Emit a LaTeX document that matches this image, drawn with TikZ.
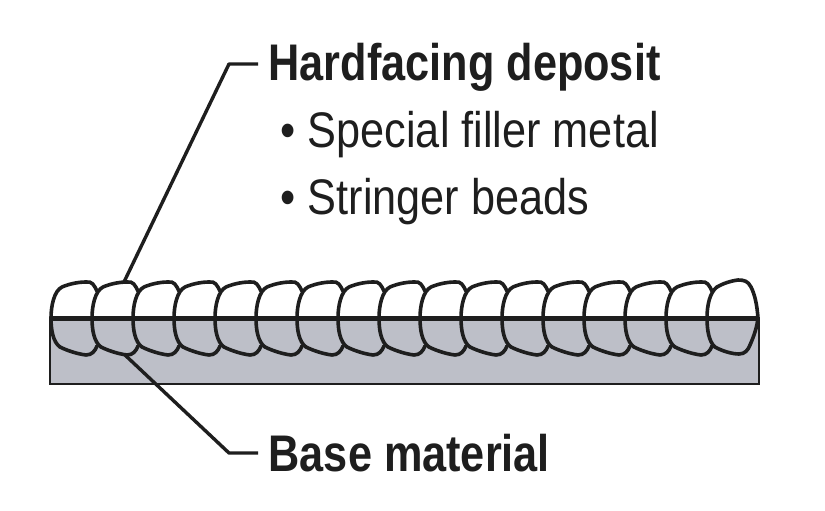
\documentclass[tikz,border=0pt]{standalone}
\usepackage{fontspec}
\setmainfont{Liberation Sans}
\newfontfamily\narrowfont[FakeStretch=0.865]{Liberation Sans}
\newfontfamily\headfont[FakeStretch=0.84]{Liberation Sans}
\usetikzlibrary{positioning}
\definecolor{basegrey}{HTML}{BDBFC8}
\definecolor{inkdark}{HTML}{1E1E1E}
\tikzset{
    heading node/.style={inner sep=0pt, text=inkdark, font=\headfont\bfseries\fontsize{51.5}{50}\selectfont, anchor=base west},
    item node/.style={inner sep=0pt, text=inkdark, font=\narrowfont\fontsize{50}{50}\selectfont, anchor=base west},
    leader/.style={draw=inkdark, line width=3.4pt, line join=round},
    bead/.pic={
        \draw[inkdark, line width=3.6pt, line cap=round]
            (46,-27) .. controls (43,-33) and (41,-37) .. (35,-36)
            .. controls (27,-36) and (18,-34) .. (11,-31)
            .. controls (3,-27) and (0,-12) .. (0,0)
            .. controls (0,12) and (2,24) .. (9,29)
            .. controls (17,33) and (27,36) .. (35,37)
            .. controls (41,37) and (44,33) .. (46,28);
    }
}

\begin{document}
\begin{tikzpicture}[x=1pt, y=-1pt]
\useasboundingbox (0,0) rectangle (825,511);
\fill[white] (0,0) rectangle (825,511);

% base plate
\draw[fill=basegrey, draw=inkdark, line width=2.8pt] (50,318) rectangle (759,384);

% row of weld beads, the last one closes the row
\foreach \n in {0,...,15}
    \pic at ({51+41*\n},318) {bead};
\draw[inkdark, line width=3.6pt, line cap=round]
    (758,318) .. controls (757,305) and (755,295) .. (751,287)
    .. controls (748,281) and (744,280) .. (738,280)
    .. controls (730,281) and (722,284) .. (717,287)
    .. controls (710,292) and (707,305) .. (707,318)
    .. controls (707,330) and (709,342) .. (715,347)
    .. controls (722,351) and (732,354) .. (739,354)
    .. controls (745,354) and (748,350) .. (750,345)
    .. controls (754,336) and (757,327) .. (758,318);

% top of the plate
\draw[inkdark, line width=5pt] (50,318) -- (759,318);

% labels
\node[heading node] (deposit) at (268.5,80.5) {Hardfacing deposit};
\node[item node] (filler) at (280.5,147) {• Special filler metal};
\node[item node] (stringer) at (280.5,214) {• Stringer beads};
\node[heading node] (base) at (268.5,471) {Base material};

\coordinate (beadtop) at (124,282);
\coordinate (beadbottom) at (125,355);
\coordinate (depositbend) at (229,64);
\coordinate (basebend) at (229,453);

\draw[leader] (beadtop) -- (depositbend) -- (258,64);
\draw[leader] (beadbottom) -- (basebend) -- (258,453);
\end{tikzpicture}
\end{document}
